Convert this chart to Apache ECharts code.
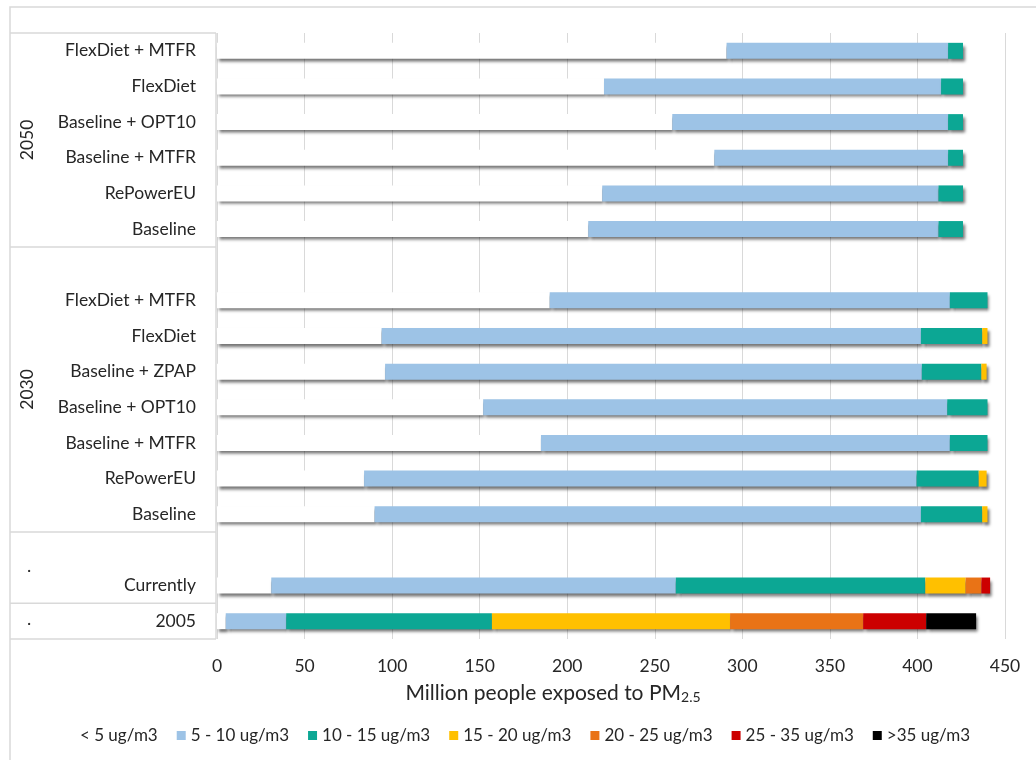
<!DOCTYPE html>
<html>
<head>
<meta charset="utf-8">
<script src="https://cdn.jsdelivr.net/npm/echarts@6/dist/echarts.min.js"></script>
<style>
html,body{margin:0;padding:0;background:#fff;}
#chart{width:1036px;height:760px;}
</style>
</head>
<body>
<div id="chart"></div>
<script>
// Categories, top to bottom ('' = blank spacer rows)
const categories = ['FlexDiet + MTFR','FlexDiet','Baseline + OPT10','Baseline + MTFR','RePowerEU','Baseline','',
  'FlexDiet + MTFR','FlexDiet','Baseline + ZPAP','Baseline + OPT10','Baseline + MTFR','RePowerEU','Baseline','',
  'Currently','2005'];
// Group labels: [label, first row index, last row index]
const groups = [['2050',0,5],['2030',6,13],['.',14,15],['.',16,16]];

const seriesNames = ['< 5 ug/m3','5 - 10 ug/m3','10 - 15 ug/m3','15 - 20 ug/m3','20 - 25 ug/m3','25 - 35 ug/m3','>35 ug/m3'];
const lt5    = [291,221,260,284,220,212,null, 190,94,96,152,185,84,90,null, 31,5];
const v5_10  = [126.5,192.5,157.5,133.5,192,200,null, 228.5,308,306.5,265,233.5,315.5,312,null, 231,34.5];
const v10_15 = [8.5,12.5,8.5,8.5,14,14,null, 21.5,35,34,23,21.5,35.5,35,null, 142.5,117.5];
const v15_20 = [0,0,0,0,0,0,null, 0,3,3,0,0,4.5,3,null, 23,136];
const v20_25 = [0,0,0,0,0,0,null, 0,0,0,0,0,0,0,null, 9,76];
const v25_35 = [0,0,0,0,0,0,null, 0,0,0,0,0,0,0,null, 5,36];
const gt35   = [0,0,0,0,0,0,null, 0,0,0,0,0,0,0,null, 0,28.5];
const xTicks = {min:0, max:450, interval:50};

const colors = ['#ffffff','#9dc3e6','#0ca794','#ffc000','#e97316','#cc0000','#000000'];
const values = [lt5,v5_10,v10_15,v15_20,v20_25,v25_35,gt35];

const FONT = 'Lato';
const chart = echarts.init(document.getElementById('chart'));

const series = values.map((vals,i)=>({
  name: seriesNames[i],
  type:'bar',
  stack:'total',
  barWidth:16,
  data: vals,
  itemStyle:{
    color: colors[i],
    shadowColor:'rgba(0,0,0,0.55)',
    shadowBlur:3,
    shadowOffsetX:2,
    shadowOffsetY:3
  },
  emphasis:{disabled:true}
}));

chart.setOption({
  animation:false,
  backgroundColor:'#fff',
  grid:{left:217, right:31, top:33, bottom:121},
  xAxis:{
    type:'value', min:xTicks.min, max:xTicks.max, interval:xTicks.interval,
    axisLine:{show:false}, axisTick:{show:false},
    splitLine:{lineStyle:{color:'#d9d9d9', width:1}},
    axisLabel:{fontFamily:FONT, fontSize:17.5, color:'#262626', margin:18}
  },
  yAxis:{
    type:'category', data:categories, inverse:true,
    axisLine:{show:false}, axisTick:{show:false},
    axisLabel:{fontFamily:FONT, fontSize:17.5, color:'#262626', margin:21, interval:0}
  },
  legend:{
    bottom:11, left:'center',
    itemWidth:9, itemHeight:9, itemGap:19, itemStyle:{},
    data: seriesNames.map((n,i)=>({name:n, icon:'rect', itemStyle:{color:colors[i], shadowBlur:0, shadowOffsetX:0, shadowOffsetY:0, shadowColor:'transparent'}})),
    textStyle:{fontFamily:FONT, fontSize:17, color:'#262626'}
  },
  series: series
});

// group label box built from the axis scale
const c0 = chart.convertToPixel({yAxisIndex:0}, 0);
const c1 = chart.convertToPixel({yAxisIndex:0}, 1);
const band = c1 - c0;
const xLeft = 10, xRight = 216;
const plotBottom = chart.convertToPixel({yAxisIndex:0}, categories.length-1) + band/2;
const plotTop = c0 - band/2;
const lineStyle = {stroke:'#d9d9d9', lineWidth:1.5};
const graphics = [];
graphics.push({type:'rect', shape:{x:10, y:7, width:1040, height:780}, style:{fill:null, stroke:'#d9d9d9', lineWidth:1.5}, silent:true});
graphics.push({type:'line', shape:{x1:xRight, y1:plotTop, x2:xRight, y2:plotBottom}, style:lineStyle, silent:true});
graphics.push({type:'line', shape:{x1:xLeft, y1:plotTop, x2:xRight, y2:plotTop}, style:lineStyle, silent:true});
groups.forEach(g=>{
  const top = chart.convertToPixel({yAxisIndex:0}, g[1]) - band/2;
  const bot = chart.convertToPixel({yAxisIndex:0}, g[2]) + band/2;
  graphics.push({type:'line', shape:{x1:xLeft, y1:bot, x2:xRight, y2:bot}, style:lineStyle, silent:true});
  const mid = (top+bot)/2;
  if (g[0] === '.') {
    graphics.push({type:'text', x:29, y:mid-2, style:{text:g[0], fontFamily:FONT, fontSize:18, fill:'#262626', align:'center', verticalAlign:'middle'}, silent:true});
  } else {
    graphics.push({type:'text', x:27, y:mid, rotation:Math.PI/2, style:{text:g[0], fontFamily:FONT, fontSize:17.5, fill:'#262626', align:'center', verticalAlign:'middle'}, silent:true});
  }
});
// axis title with subscript
graphics.push({type:'text', x:553, y:693, silent:true, style:{
  text:'{a|Million people exposed to PM}{s|2.5}',
  align:'center', verticalAlign:'middle',
  rich:{
    a:{fontFamily:FONT, fontSize:21, fill:'#262626', color:'#262626'},
    s:{fontFamily:FONT, fontSize:14, fill:'#262626', color:'#262626', verticalAlign:'bottom', padding:[9,0,0,0]}
  }
}});
chart.setOption({graphic:{elements:graphics}});
</script>
</body>
</html>
